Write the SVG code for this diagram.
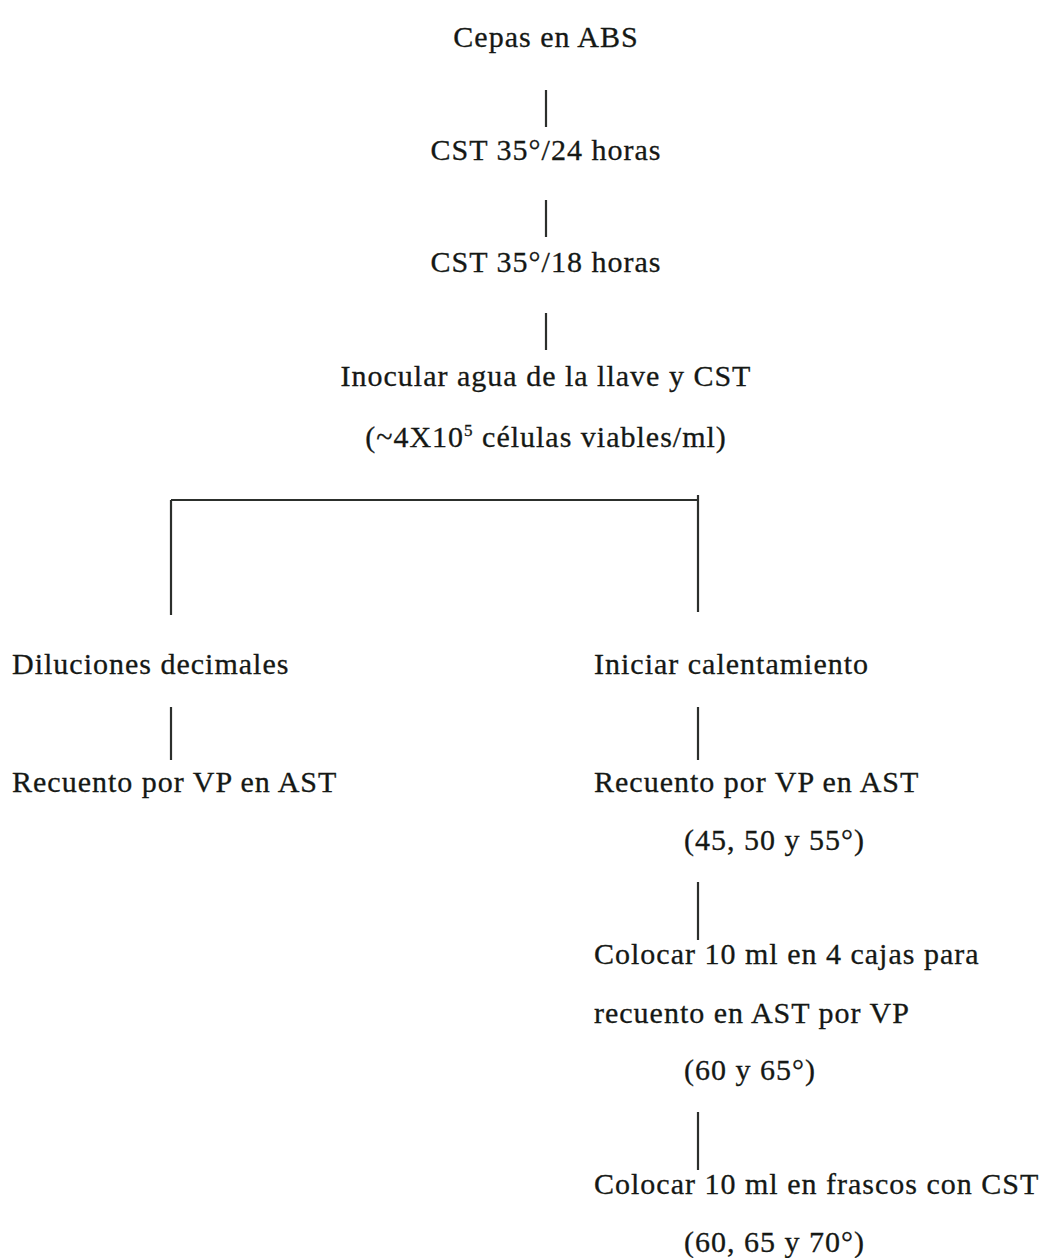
<svg xmlns="http://www.w3.org/2000/svg" width="1049" height="1258" viewBox="0 0 1049 1258">
<style>
text{font-family:"Liberation Serif","Times New Roman",serif;font-size:30px;fill:#151815;stroke:#151815;stroke-width:0.3;letter-spacing:1px}
.c{text-anchor:middle}
.sup{font-size:17px}
line{stroke:#2c2f2c;stroke-width:2.2;stroke-linecap:butt}
</style>
<rect width="1049" height="1258" fill="#fff"/>
<g id="connectors">
<line x1="546" y1="90" x2="546" y2="127"/>
<line x1="546" y1="200" x2="546" y2="237"/>
<line x1="546" y1="313" x2="546" y2="350"/>
<line x1="171" y1="500" x2="698" y2="500"/>
<line x1="171" y1="500" x2="171" y2="615"/>
<line x1="698" y1="495" x2="698" y2="612"/>
<line x1="171" y1="707" x2="171" y2="760"/>
<line x1="698" y1="707" x2="698" y2="760"/>
<line x1="698" y1="882" x2="698" y2="940"/>
<line x1="698" y1="1112" x2="698" y2="1170"/>
</g>
<g id="n1"><text class="c" x="546" y="47">Cepas en ABS</text></g>
<g id="n2"><text class="c" x="546" y="160">CST 35°/24 horas</text></g>
<g id="n3"><text class="c" x="546" y="272">CST 35°/18 horas</text></g>
<g id="n4"><text class="c" x="546" y="386">Inocular agua de la llave y CST</text>
<text class="c" x="546" y="447">(~4X10<tspan class="sup" dy="-11">5</tspan><tspan dy="11"> células viables/ml)</tspan></text></g>
<g id="n5"><text x="12" y="674">Diluciones decimales</text></g>
<g id="n6"><text x="12" y="792">Recuento por VP en AST</text></g>
<g id="n7"><text x="594" y="674">Iniciar calentamiento</text></g>
<g id="n8"><text x="594" y="792">Recuento por VP en AST</text>
<text x="684" y="850">(45, 50 y 55°)</text></g>
<g id="n9"><text x="594" y="964">Colocar 10 ml en 4 cajas para</text>
<text x="594" y="1023">recuento en AST por VP</text>
<text x="684" y="1080">(60 y 65°)</text></g>
<g id="n10"><text x="594" y="1194">Colocar 10 ml en frascos con CST</text>
<text x="684" y="1252">(60, 65 y 70°)</text></g>
</svg>
